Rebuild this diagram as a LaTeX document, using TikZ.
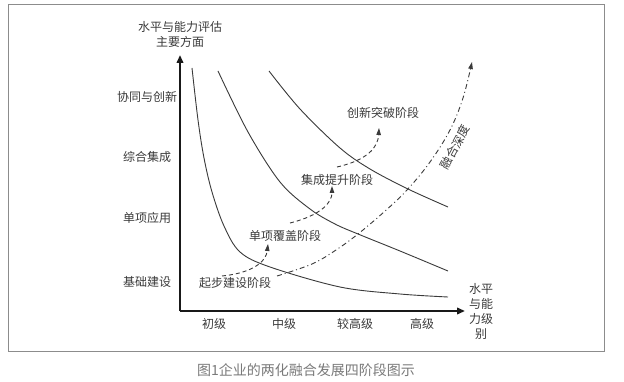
\documentclass[tikz,border=0pt]{standalone}
\usepackage{fontspec}
\newfontfamily\cjk{Noto Sans CJK SC}
\usetikzlibrary{arrows.meta}
\definecolor{ink}{HTML}{3A3A3A}
\definecolor{framec}{HTML}{8C8C8C}
\definecolor{capc}{HTML}{7A7A7A}
\tikzset{
  lbl/.style={font=\cjk\fontsize{12}{15}\selectfont, text=ink, inner sep=0pt},
  curve/.style={draw=ink, line width=0.9pt},
  axis/.style={draw=black!90, line width=2.2pt, -{Triangle[length=8pt,width=6.5pt]}},
  dsh/.style={draw=ink, line width=0.9pt, dash pattern=on 4pt off 3pt, -{Triangle[length=7pt,width=4.5pt]}},
  dshdot/.style={draw=ink, line width=0.9pt, dash pattern=on 5pt off 3pt on 1pt off 3pt, -{Triangle[length=7pt,width=4.5pt]}}
}
\begin{document}
\begin{tikzpicture}[x=1pt,y=-1pt]
\useasboundingbox (0,0) rectangle (624,382);
\fill[white] (0,0) rectangle (624,382);
\draw[framec, line width=0.9pt] (8,4.5) rectangle (604,351);

% axes
\coordinate (O) at (180,311);
\coordinate (ytip) at (180,55);
\coordinate (xtip) at (465,311);
\draw[axis] (O) -- (ytip);
\draw[axis] (O) -- (xtip);

% axis titles
\node[lbl, align=center] (ytitle) at (180,34.5) {水平与能力评估\\主要方面};
\node[lbl, align=center] (xtitle) at (481,311) {水平\\与能\\力级\\别};

% y labels
\node[lbl] (y4) at (147,97) {协同与创新};
\node[lbl] (y3) at (147,157) {综合集成};
\node[lbl] (y2) at (147,218) {单项应用};
\node[lbl] (y1) at (147,282) {基础建设};

% x labels
\node[lbl] (x1) at (214,324) {初级};
\node[lbl] (x2) at (284,324) {中级};
\node[lbl] (x3) at (355,324) {较高级};
\node[lbl] (x4) at (422,324) {高级};

% curves
\draw[curve] plot[smooth, tension=0.55] coordinates {(192,68) (198,120) (204,158) (212,192) (224,226) (240,252) (270,267) (340,287) (400,294) (448,297)};
\draw[curve] plot[smooth, tension=0.55] coordinates {(218,71) (248,132) (280,182) (310,209) (335,224) (358,234) (400,251) (448,271)};
\draw[curve] plot[smooth, tension=0.55] coordinates {(269,71) (300,109) (340,148) (370,169) (408,189) (448,207)};

% main dashed curve
\draw[dshdot] plot[smooth, tension=0.6] coordinates {(277,276) (312,264) (336,250) (358,234) (384,212) (407,190) (430,162) (450,130) (463,98) (472,62)};
\node[lbl, rotate=62] (depth) at (455,147) {融合深度};

% stage labels
\node[lbl] (s1) at (235,283) {起步建设阶段};
\node[lbl] (s2) at (285,236) {单项覆盖阶段};
\node[lbl] (s3) at (337,180) {集成提升阶段};
\node[lbl] (s4) at (383,113) {创新突破阶段};

% stage arrows
\coordinate (a1) at (222,276);
\coordinate (b1) at (268,244);
\coordinate (a2) at (290,223);
\coordinate (b2) at (332,186);
\coordinate (a3) at (337,167);
\coordinate (b3) at (379,128);
\draw[dsh] (a1) .. controls (252,273) and (266,262) .. (b1);
\draw[dsh] (a2) .. controls (322,215) and (332,202) .. (b2);
\draw[dsh] (a3) .. controls (368,160) and (378,147) .. (b3);

% caption
\node[font=\cjk\fontsize{14}{16}\selectfont, text=capc, inner sep=0pt] (cap) at (306,370) {图1企业的两化融合发展四阶段图示};
\end{tikzpicture}
\end{document}
